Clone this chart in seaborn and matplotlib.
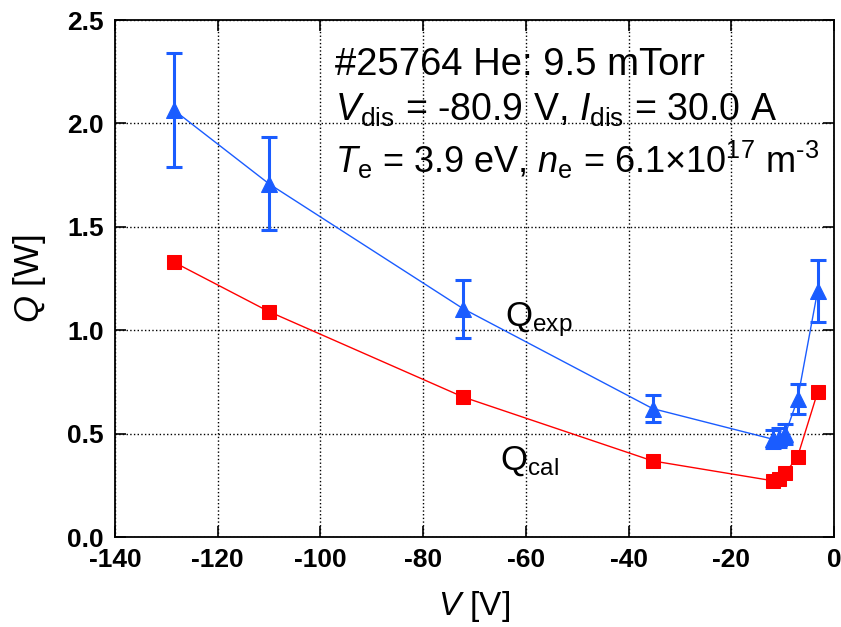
import matplotlib
matplotlib.use("Agg")
import matplotlib.pyplot as plt
import seaborn as sns
import pandas as pd

# ---- data ----
V = [-128.6, -110.0, -72.2, -35.3, -11.9, -10.8, -9.5, -7.1, -3.2]
Q_CAL = [1.33, 1.09, 0.677, 0.368, 0.272, 0.283, 0.309, 0.388, 0.70]
Q_EXP = [2.066, 1.708, 1.104, 0.621, 0.473, 0.481, 0.497, 0.666, 1.19]
Q_EXP_ERR = [0.275, 0.225, 0.14, 0.067, 0.043, 0.045, 0.048, 0.072, 0.15]

X_TICKS = [-140, -120, -100, -80, -60, -40, -20, 0]
Y_TICKS = [0.0, 0.5, 1.0, 1.5, 2.0, 2.5]

COLOR_CAL = '#ff0000'
COLOR_EXP = '#1a5cff'

df = pd.DataFrame({'V': V, 'Q_cal': Q_CAL, 'Q_exp': Q_EXP, 'err': Q_EXP_ERR})

sns.set_style("ticks")
plt.rcParams.update({
    'font.family': ['Liberation Sans', 'DejaVu Sans'],
    'mathtext.fontset': 'custom',
    'mathtext.rm': 'Liberation Sans',
    'mathtext.it': 'Liberation Sans:italic',
    'mathtext.bf': 'Liberation Sans:bold',
    'text.color': 'black',
    'axes.labelcolor': 'black',
    'xtick.color': 'black',
    'ytick.color': 'black',
})

fig = plt.figure(figsize=(8.41, 6.27), dpi=100)
ax = fig.add_axes([0.1367, 0.1435, 0.855, 0.8245])

ax.errorbar(df['V'], df['Q_exp'], yerr=df['err'], fmt='none',
            ecolor=COLOR_EXP, elinewidth=2.2, capsize=6, capthick=2.2, zorder=3)
sns.lineplot(data=df, x='V', y='Q_exp', sort=False, estimator=None,
             color=COLOR_EXP, lw=1.0, marker='^', markersize=12,
             markeredgecolor=COLOR_EXP, ax=ax, zorder=4)
sns.lineplot(data=df, x='V', y='Q_cal', sort=False, estimator=None,
             color=COLOR_CAL, lw=1.0, marker='s', markersize=10,
             markeredgecolor=COLOR_CAL, ax=ax, zorder=4)

ax.set_xlim(-140, 0)
ax.set_ylim(0, 2.5)
ax.set_xticks(X_TICKS)
ax.set_yticks(Y_TICKS)
ax.set_xticklabels([str(t) for t in X_TICKS], fontweight='bold', fontsize=19)
ax.set_yticklabels([f'{t:.1f}' for t in Y_TICKS], fontweight='bold', fontsize=19)
ax.tick_params(direction='in', length=8, width=1.2, top=True, right=True, pad=8)
ax.grid(True, color='black', linestyle=':', linewidth=1.0)
for s in ax.spines.values():
    s.set_linewidth(1.3)
    s.set_color('black')

ax.set_xlabel(r'$V$ [V]', fontsize=24, labelpad=12)
ax.set_ylabel(r'$Q$ [W]', fontsize=25, labelpad=14)

ax.text(0.306, 0.913, '#25764 He: 9.5 mTorr', transform=ax.transAxes,
        fontsize=27.5, va='center', ha='left')
ax.text(0.306, 0.826, r'$V_{\mathrm{dis}}$ = -80.9 V, $I_{\mathrm{dis}}$ = 30.0 A',
        transform=ax.transAxes, fontsize=27, va='center', ha='left')
ax.text(0.306, 0.729, r'$T_{\mathrm{e}}$ = 3.9 eV, $n_{\mathrm{e}}$ = 6.1×10$^{17}$ m$^{\text{-3}}$',
        transform=ax.transAxes, fontsize=26, va='center', ha='left')

ax.text(0.542, 0.42, r'Q$_{\mathrm{exp}}$', transform=ax.transAxes,
        fontsize=25, va='center', ha='left')
ax.text(0.535, 0.147, r'Q$_{\mathrm{cal}}$', transform=ax.transAxes,
        fontsize=25, va='center', ha='left')

fig.savefig('out.png', dpi=100)
